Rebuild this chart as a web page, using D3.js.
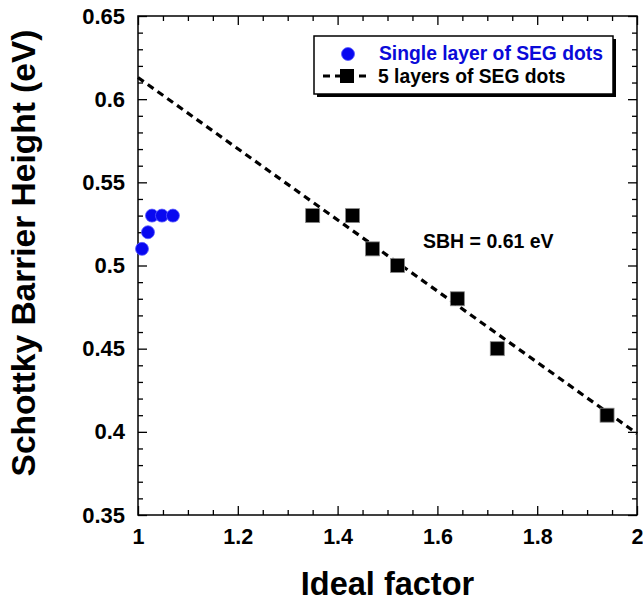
<!DOCTYPE html>
<html>
<head>
<meta charset="utf-8">
<script src="https://cdn.jsdelivr.net/npm/d3@7"></script>
<style>
  body { margin: 0; background: #fff; }
  text { font-family: Arial, "Liberation Sans", sans-serif; font-weight: bold; }
</style>
</head>
<body>
<svg id="chart" width="643" height="603"></svg>
<script>
// single layer of SEG dots
var singleX = [1.008, 1.02, 1.028, 1.048, 1.07];
var singleY = [0.51, 0.52, 0.53, 0.53, 0.53];

// 5 layers of SEG dots
var multiX = [1.35, 1.43, 1.47, 1.52, 1.64, 1.72, 1.94];
var multiY = [0.53, 0.53, 0.51, 0.50, 0.48, 0.45, 0.41];

// linear fit line (ends at the frame)
var fitX = [1, 2];
var fitY = [0.613, 0.399];

var xTicks = [1, 1.2, 1.4, 1.6, 1.8, 2];
var yTicks = [0.35, 0.4, 0.45, 0.5, 0.55, 0.6, 0.65];

var svg = d3.select("#chart");
var mLeft = 138, mRight = 637, mTop = 16, mBottom = 515;

var x = d3.scaleLinear().domain([1, 2]).range([mLeft, mRight]);
var y = d3.scaleLinear().domain([0.35, 0.65]).range([mBottom, mTop]);

// minor ticks
var xMinor = d3.range(1, 2.0001, 0.05).filter(v => !xTicks.some(t => Math.abs(t - v) < 1e-6));
var yMinor = d3.range(0.35, 0.6501, 0.01).filter(v => !yTicks.some(t => Math.abs(t - v) < 1e-6));

function addAxis(axis, tr) {
  var g = svg.append("g").attr("transform", tr).call(axis);
  g.select(".domain").remove();
  g.selectAll("line").attr("stroke", "#000").attr("stroke-width", 1.3);
  return g;
}

// major ticks with labels
var gx = addAxis(d3.axisBottom(x).tickValues(xTicks).tickSize(-9).tickPadding(14)
  .tickFormat(d3.format("")), "translate(0," + mBottom + ")");
gx.selectAll("text").attr("font-size", 21.5).attr("fill", "#000")
  .attr("font-family", "Arial, 'Liberation Sans', sans-serif").attr("font-weight", "bold");

var gy = addAxis(d3.axisLeft(y).tickValues(yTicks).tickSize(-9).tickPadding(13)
  .tickFormat(d3.format("")), "translate(" + mLeft + ",0)");
gy.selectAll("text").attr("font-size", 22).attr("fill", "#000")
  .attr("font-family", "Arial, 'Liberation Sans', sans-serif").attr("font-weight", "bold");

// opposite sides, no labels
addAxis(d3.axisTop(x).tickValues(xTicks).tickSize(-9).tickFormat(""), "translate(0," + mTop + ")");
addAxis(d3.axisRight(y).tickValues(yTicks).tickSize(-9).tickFormat(""), "translate(" + mRight + ",0)");

// minor ticks all four sides
addAxis(d3.axisBottom(x).tickValues(xMinor).tickSize(-5).tickFormat(""), "translate(0," + mBottom + ")");
addAxis(d3.axisTop(x).tickValues(xMinor).tickSize(-5).tickFormat(""), "translate(0," + mTop + ")");
addAxis(d3.axisLeft(y).tickValues(yMinor).tickSize(-5).tickFormat(""), "translate(" + mLeft + ",0)");
addAxis(d3.axisRight(y).tickValues(yMinor).tickSize(-5).tickFormat(""), "translate(" + mRight + ",0)");

// frame
svg.append("rect")
  .attr("x", mLeft).attr("y", mTop)
  .attr("width", mRight - mLeft).attr("height", mBottom - mTop)
  .attr("fill", "none").attr("stroke", "#000").attr("stroke-width", 1.5);

// fit line
var line = d3.line().x(d => x(d[0])).y(d => y(d[1]));
svg.append("path")
  .datum(d3.zip(fitX, fitY))
  .attr("d", line)
  .attr("fill", "none")
  .attr("stroke", "#000")
  .attr("stroke-width", 3.2)
  .attr("stroke-dasharray", "7,5");

// squares
var sq = 14;
svg.append("g").selectAll("rect")
  .data(d3.zip(multiX, multiY))
  .join("rect")
  .attr("x", d => x(d[0]) - sq / 2)
  .attr("y", d => y(d[1]) - sq / 2)
  .attr("width", sq).attr("height", sq)
  .attr("fill", "#000")
  .attr("stroke", "#888").attr("stroke-width", 0.8);

// circles
svg.append("g").selectAll("circle")
  .data(d3.zip(singleX, singleY))
  .join("circle")
  .attr("cx", d => x(d[0]))
  .attr("cy", d => y(d[1]))
  .attr("r", 6.5)
  .attr("fill", "#0808f0")
  .attr("stroke", "#5a5aff").attr("stroke-width", 0.8);

// annotation
svg.append("text")
  .attr("x", 423).attr("y", 248)
  .attr("font-size", 19.5)
  .text("SBH = 0.61 eV");

// legend
var lg = svg.append("g");
lg.append("rect").attr("x", 317).attr("y", 39).attr("width", 299).attr("height", 58).attr("fill", "#000");
lg.append("rect").attr("x", 314).attr("y", 36).attr("width", 299).attr("height", 58)
  .attr("fill", "#fff").attr("stroke", "#000").attr("stroke-width", 1.5);
lg.append("circle").attr("cx", 348).attr("cy", 54).attr("r", 6.5)
  .attr("fill", "#0808f0").attr("stroke", "#5a5aff").attr("stroke-width", 0.8);
lg.append("text").attr("x", 379).attr("y", 60).attr("font-size", 19.3)
  .attr("fill", "#0a0ad8").text("Single layer of SEG dots");
lg.append("line").attr("x1", 323).attr("x2", 371).attr("y1", 76).attr("y2", 76)
  .attr("stroke", "#000").attr("stroke-width", 3.2).attr("stroke-dasharray", "7,5");
lg.append("rect").attr("x", 340).attr("y", 69).attr("width", sq).attr("height", sq).attr("fill", "#000");
lg.append("text").attr("x", 378).attr("y", 83).attr("font-size", 19.3)
  .text("5 layers of SEG dots");

// axis titles
svg.append("text")
  .attr("x", (mLeft + mRight) / 2).attr("y", 595)
  .attr("text-anchor", "middle")
  .attr("font-size", 32.5)
  .text("Ideal factor");

svg.append("text")
  .attr("transform", "translate(35,253) rotate(-90)")
  .attr("text-anchor", "middle")
  .attr("font-size", 33.5)
  .text("Schottky Barrier Height (eV)");
</script>
</body>
</html>
